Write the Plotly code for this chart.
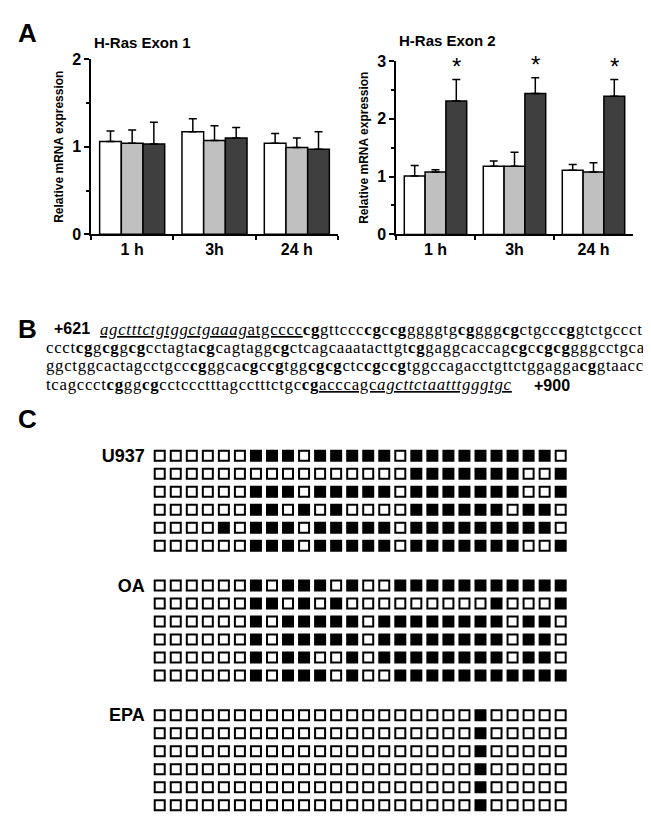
import plotly.graph_objects as go

W, H = 651, 819

# ---- panel A data ----
times = ["1 h", "3h", "24 h"]

exon1_white = [1.06, 1.17, 1.04]
exon1_white_err = [0.12, 0.15, 0.11]
exon1_grey = [1.04, 1.07, 0.99]
exon1_grey_err = [0.15, 0.17, 0.11]
exon1_dark = [1.03, 1.10, 0.97]
exon1_dark_err = [0.25, 0.12, 0.20]

exon2_white = [1.01, 1.18, 1.11]
exon2_white_err = [0.18, 0.09, 0.10]
exon2_grey = [1.08, 1.18, 1.08]
exon2_grey_err = [0.04, 0.24, 0.16]
exon2_dark = [2.31, 2.44, 2.39]
exon2_dark_err = [0.37, 0.27, 0.29]
exon2_dark_sig = [True, True, True]

# ---- panel B data ----
seq_first, seq_last = 621, 900
seq_lines = [
    "agctttctgtggctgaaagatgcccccggttccccgccgggggtgcggggcgctgcccggtctgccctc",
    "ccctcggcggcgcctagtacgcagtaggcgctcagcaaatacttgtcggaggcaccagcgccgcggggcctgca",
    "ggctggcactagcctgcccgggcacgccgtggcgcgctccgccgtggccagacctgttctggaggacggtaacc",
    "tcagccctcgggcgcctccctttagcctttctgccgacccagcagcttctaatttgggtgc",
]
fwd_primer = "agctttctgtggctgaaagatgcccc"   # underlined, first part italic
fwd_italic = "agctttctgtggctgaaag"
rev_primer = "gacccagcagcttctaatttgggtgc"
rev_italic = "agcttctaatttgggtgc"

# ---- panel C data (1 = methylated CpG) ----
cpg_groups = ["U937", "OA", "EPA"]
u937_rows = [
    "00000011101111101111111110",
    "00000000000000001111111001",
    "00000011101111101111111001",
    "00000011010100001111110110",
    "00001011101111101111111110",
    "00000011101111101111111001",
]
oa_rows = [
    "00000010111010011111111111",
    "00000011010100000000010001",
    "00000010111110111111110110",
    "00000010111110111111110110",
    "00000010110010111111110110",
    "00000010111010011111111111",
]
epa_rows = [
    "00000000000000000000100000",
    "00000000000000000000100000",
    "00000000000000000000100000",
    "00000000000000000000100000",
    "00000000000000000000100000",
    "00000000000000000000100000",
]


def px(x):
    return x / W


def py(y):
    return 1 - y / H


def markup(line, spans):
    # bold the CpG sites, underline primers (with their italic part)
    styles = []
    for i, ch in enumerate(line):
        bold = (line[i:i + 2] == "cg") or (i > 0 and line[i - 1:i + 1] == "cg")
        und = False
        ital = False
        for s, e, ie in spans:
            if s <= i < e:
                und = True
                ital = s + ie[0] <= i < s + ie[1]
        styles.append((und, ital, bold))
    out = ""
    i = 0
    while i < len(line):
        j = i
        while j < len(line) and styles[j] == styles[i]:
            j += 1
        und, ital, bold = styles[i]
        txt = line[i:j]
        if bold:
            txt = "<b>" + txt + "</b>"
        if ital:
            txt = "<i>" + txt + "</i>"
        if und:
            txt = "<u>" + txt + "</u>"
        out += txt
        i = j
    return '<span style="letter-spacing:0.7px">' + out + "</span>"


fig = go.Figure()

bar_colors = ["white", "#c0c0c0", "#3f3f3f"]
sans = "Liberation Sans, Arial"

left_sets = [(exon1_white, exon1_white_err), (exon1_grey, exon1_grey_err), (exon1_dark, exon1_dark_err)]
right_sets = [(exon2_white, exon2_white_err), (exon2_grey, exon2_grey_err), (exon2_dark, exon2_dark_err)]

for axes, sets in [(("x", "y"), left_sets), (("x2", "y2"), right_sets)]:
    for (vals, errs), col in zip(sets, bar_colors):
        fig.add_trace(go.Bar(
            x=times, y=vals, xaxis=axes[0], yaxis=axes[1],
            marker=dict(color=col, line=dict(color="black", width=1.5)),
            error_y=dict(type="data", array=errs, arrayminus=[0] * len(errs), symmetric=False,
                         color="black", thickness=1.5, width=4),
            showlegend=False, hoverinfo="skip"))

# methylation grid
for filled in [0, 1]:
    xs, ys = [], []
    for g, rows in enumerate([u937_rows, oa_rows, epa_rows]):
        for r, row in enumerate(rows):
            for c, v in enumerate(row):
                if int(v) == filled:
                    xs.append(c + 1)
                    ys.append(g * 7.2 + r)
    fig.add_trace(go.Scatter(
        x=xs, y=ys, xaxis="x3", yaxis="y3", mode="markers",
        marker=dict(symbol="square", size=10, color="black" if filled else "white",
                    line=dict(color="black", width=2)),
        showlegend=False, hoverinfo="skip"))

annotations = []
# significance stars over dark bars
for t, v, e, s in zip(times, exon2_dark, exon2_dark_err, exon2_dark_sig):
    if s:
        annotations.append(dict(x=t, y=v + e, xref="x2", yref="y2", xshift=21, yshift=-2,
                                text="*", showarrow=False, yanchor="bottom",
                                font=dict(family=sans, size=24, color="black")))

# titles and panel letters
annotations += [
    dict(x=px(84), y=py(27), text="<b>H-Ras Exon 1</b>", xanchor="left"),
    dict(x=px(389), y=py(25), text="<b>H-Ras Exon 2</b>", xanchor="left"),
]
for a in annotations[-2:]:
    a.update(xref="paper", yref="paper", showarrow=False, yanchor="middle",
             font=dict(family=sans, size=15, color="black"))

for letter, x, y in [("A", 8, 17), ("B", 8, 320), ("C", 8, 412)]:
    annotations.append(dict(x=px(x), y=py(y), xref="paper", yref="paper", text="<b>" + letter + "</b>",
                            showarrow=False, xanchor="left", yanchor="middle",
                            font=dict(family=sans, size=26, color="black")))

# sequence
line_y = [320, 338.7, 357.4, 376.1]
line_x = [90, 36, 36, 36]
for k, line in enumerate(seq_lines):
    spans = []
    p = line.find(fwd_primer)
    if p >= 0:
        s = fwd_primer.find(fwd_italic)
        spans.append((p, p + len(fwd_primer), (s, s + len(fwd_italic))))
    p = line.find(rev_primer)
    if p >= 0:
        s = rev_primer.find(rev_italic)
        spans.append((p, p + len(rev_primer), (s, s + len(rev_italic))))
    annotations.append(dict(x=px(line_x[k]), y=py(line_y[k]), xref="paper", yref="paper",
                            text=markup(line, spans), showarrow=False, xanchor="left", yanchor="middle",
                            font=dict(family="Liberation Serif, Times New Roman", size=16.8, color="black")))
annotations.append(dict(x=px(44), y=py(319), xref="paper", yref="paper", text="<b>+%d</b>" % seq_first,
                        showarrow=False, xanchor="left", yanchor="middle",
                        font=dict(family=sans, size=16, color="black")))
annotations.append(dict(x=px(524), y=py(377), xref="paper", yref="paper", text="<b>+%d</b>" % seq_last,
                        showarrow=False, xanchor="left", yanchor="middle",
                        font=dict(family=sans, size=16, color="black")))

tick_font = dict(family=sans, size=16, color="black", weight="bold")
common = dict(showline=True, linecolor="black", linewidth=1.5, showgrid=False, zeroline=False,
              ticks="outside", tickcolor="black", tickwidth=1.5, fixedrange=True, tickfont=tick_font)

fig.update_layout(
    width=W, height=H, margin=dict(l=0, r=0, t=0, b=0),
    paper_bgcolor="white", plot_bgcolor="white",
    barmode="group", bargap=0.21, bargroupgap=0,
    xaxis=dict(domain=[px(83), px(330)], anchor="y", tickson="boundaries", ticklen=4, **common),
    yaxis=dict(domain=[py(223), py(44)], anchor="x", range=[0, 2], dtick=1, ticklen=5,
               minor=dict(dtick=0.5, ticks="outside", ticklen=3, tickcolor="black", tickwidth=1.5),
               title=dict(text="Relative mRNA expression", standoff=6,
                          font=dict(family=sans, size=12, color="black", weight="bold")),
               **common),
    xaxis2=dict(domain=[px(388), px(625)], anchor="y2", tickson="boundaries", ticklen=4, **common),
    yaxis2=dict(domain=[py(223), py(46)], anchor="x2", range=[0, 3], dtick=1, ticklen=5,
                minor=dict(dtick=0.5, ticks="outside", ticklen=3, tickcolor="black", tickwidth=1.5),
                title=dict(text="Relative mRNA expression", standoff=6,
                           font=dict(family=sans, size=12, color="black", weight="bold")),
                **common),
    xaxis3=dict(domain=[px(143.7), px(560.7)], anchor="y3", range=[0.5, 26.5], visible=False,
                fixedrange=True),
    yaxis3=dict(domain=[py(815.2), py(439.8)], anchor="x3", range=[19.9, -0.5],
                showgrid=False, zeroline=False, showline=False, ticks="", ticklabelstandoff=6,
                tickvals=[g * 7.2 for g in range(len(cpg_groups))], ticktext=cpg_groups,
                tickfont=dict(family=sans, size=18, color="black", weight="bold"), fixedrange=True),
    annotations=annotations,
)

fig.write_html("out.html")
